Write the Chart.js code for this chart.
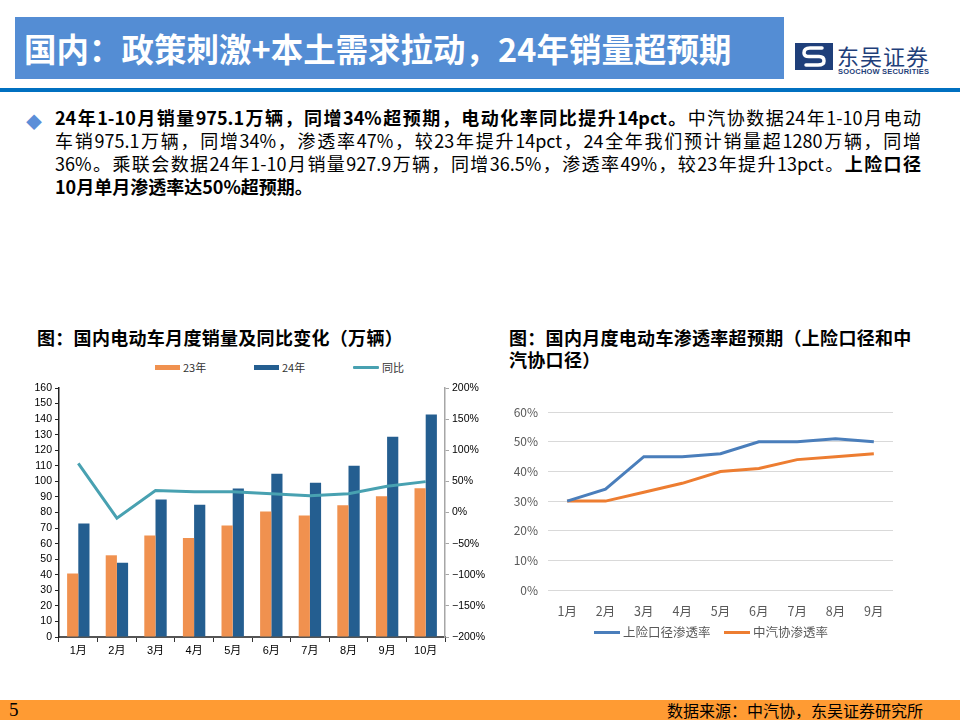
<!DOCTYPE html>
<html><head><meta charset="utf-8">
<script src="https://cdn.jsdelivr.net/npm/chart.js@4/dist/chart.umd.min.js"></script>
<style>
html,body{margin:0;padding:0;background:#fff;}
body{width:960px;height:720px;position:relative;overflow:hidden;font-family:"Noto Sans CJK SC","Noto Sans",sans-serif;}
.abs{position:absolute;}
#hdr{left:15px;top:17px;width:769px;height:62px;background:#548DD4;}
#hdrtxt{left:24px;top:17px;height:62px;line-height:62px;color:#fff;font-weight:bold;font-size:32.4px;white-space:nowrap;letter-spacing:0.1px;}
#rule{left:0;top:88px;width:960px;height:4px;background:#0070C0;}
#bul{left:26px;top:109px;color:#5B8ED8;font-size:16px;}
.ln{position:absolute;left:55px;width:866px;font-size:18px;line-height:23px;height:23px;white-space:nowrap;color:#000;font-family:"Noto Sans CJK SC",sans-serif;}
.j{text-align:justify;text-align-last:justify;}
.ttl{position:absolute;font-weight:bold;font-size:18px;color:#000;white-space:nowrap;letter-spacing:0.3px;}
.lg{position:absolute;font-size:11px;color:#333;white-space:nowrap;line-height:12px;}
.lg2{position:absolute;font-size:12.5px;color:#595959;white-space:nowrap;line-height:14px;}
#foot{left:0;top:700px;width:960px;height:20px;background:#FF9B33;}
</style></head>
<body>
<div id="hdr" class="abs"></div>
<div id="hdrtxt" class="abs">国内：政策刺激+本土需求拉动，24年销量超预期</div>
<div class="abs" style="left:795px;top:43px;width:38px;height:27px;background:#1F3F7A;overflow:hidden">
<svg width="38" height="27" viewBox="0 0 38 27"><path d="M27 5 L15 5 Q9 5 9 10 Q9 13.5 14 13.5 L24 13.5 Q29 13.5 29 18 Q29 22 23 22 L11 22" stroke="#fff" stroke-width="3.5" fill="none" stroke-linecap="round"/></svg>
</div>
<div class="abs" style="left:837px;top:42px;font-size:22px;line-height:26px;color:#1F3F7A;letter-spacing:1px;white-space:nowrap">东吴证券</div>
<div class="abs" style="left:838px;top:68px;font-size:7.5px;line-height:8px;color:#1F3F7A;font-weight:bold;letter-spacing:0.2px;white-space:nowrap;font-family:'Liberation Sans',sans-serif">SOOCHOW SECURITIES</div>
<div id="rule" class="abs"></div>
<div id="bul" class="abs">◆</div>
<div class="ln j" style="top:106px"><b>24年1-10月销量975.1万辆，同增34%超预期，电动化率同比提升14pct。</b>中汽协数据24年1-10月电动</div>
<div class="ln j" style="top:129px">车销975.1万辆，同增34%，渗透率47%，较23年提升14pct，24全年我们预计销量超1280万辆，同增</div>
<div class="ln j" style="top:152px">36%。乘联会数据24年1-10月销量927.9万辆，同增36.5%，渗透率49%，较23年提升13pct。<b>上险口径</b></div>
<div class="ln" style="top:175px"><b>10月单月渗透率达50%超预期。</b></div>

<div class="ttl" style="left:37px;top:324px">图：国内电动车月度销量及同比变化（万辆）</div>
<div class="ttl" style="left:509px;top:324px">图：国内月度电动车渗透率超预期（上险口径和中</div>
<div class="ttl" style="left:509px;top:346px">汽协口径）</div>

<div class="abs" style="left:155px;top:365px;width:25px;height:5px;background:#F0914F"></div>
<div class="lg" style="left:183px;top:361px">23年</div>
<div class="abs" style="left:254px;top:365px;width:25px;height:5px;background:#245E90"></div>
<div class="lg" style="left:282px;top:361px">24年</div>
<div class="abs" style="left:353px;top:366px;width:26px;height:3px;background:#48A1B1;border-radius:1px"></div>
<div class="lg" style="left:382px;top:361px">同比</div>

<div class="abs" style="left:10px;top:378px;width:480px;height:290px"><canvas id="c1" width="480" height="290"></canvas></div>
<div class="abs" style="left:500px;top:395px;width:420px;height:228px"><canvas id="c2" width="420" height="228"></canvas></div>

<div class="abs" style="left:594px;top:631px;width:26px;height:3px;background:#4A7EBB"></div>
<div class="lg2" style="left:623px;top:625px">上险口径渗透率</div>
<div class="abs" style="left:724px;top:631px;width:26px;height:3px;background:#ED7D31"></div>
<div class="lg2" style="left:753px;top:625px">中汽协渗透率</div>

<div id="foot" class="abs"></div>
<div class="abs" style="left:9px;top:699px;font-size:19px;line-height:22px;font-family:'Liberation Serif',serif;color:#000">5</div>
<div class="abs" style="left:667px;top:700px;font-size:16px;line-height:20px;color:#000;white-space:nowrap">数据来源：中汽协，东吴证券研究所</div>

<script>
const months10 = ['1月','2月','3月','4月','5月','6月','7月','8月','9月','10月'];
const sales23 = [40.8, 52.5, 65.3, 63.6, 71.7, 80.6, 78.0, 84.6, 90.4, 95.6];
const sales24 = [72.9, 47.7, 88.3, 85.0, 95.5, 104.9, 99.1, 110.0, 128.7, 143.0];
const yoy = [78.8, -9.2, 35.3, 33.5, 33.3, 30.1, 27.0, 30.0, 42.3, 49.6];

const months9 = ['1月','2月','3月','4月','5月','6月','7月','8月','9月'];
const penInsurance = [30, 34, 45, 45, 46, 50, 50, 51, 50];
const penCaam = [30, 30, 33, 36, 40, 41, 44, 45, 46];

const narrow = "'Liberation Sans Narrow','Liberation Sans','Noto Sans CJK SC',sans-serif";

new Chart(document.getElementById('c1'), {
  data: {
    labels: months10,
    datasets: [
      {type:'line', label:'同比', data:yoy, yAxisID:'y1', borderColor:'#48A1B1', borderWidth:3, pointRadius:0, tension:0, order:0},
      {type:'bar', label:'23年', data:sales23, yAxisID:'y', backgroundColor:'#F0914F', barPercentage:1, categoryPercentage:0.58, order:1},
      {type:'bar', label:'24年', data:sales24, yAxisID:'y', backgroundColor:'#245E90', barPercentage:1, categoryPercentage:0.58, order:1}
    ]
  },
  options: {
    responsive:false, animation:false,
    layout:{padding:{top:10,left:0,right:0,bottom:0}},
    plugins:{legend:{display:false}, tooltip:{enabled:false}},
    scales:{
      x:{
        offset:true,
        grid:{offset:true, drawOnChartArea:false, drawTicks:true, tickLength:5, tickColor:'#333'},
        border:{color:'#555', width:2},
        ticks:{color:'#000', font:{family:narrow, size:11}, padding:2, maxRotation:0, autoSkip:false},
        afterFit:s=>{s.height=31;}
      },
      y:{
        position:'left', min:0, max:160,
        ticks:{stepSize:10, autoSkip:false, color:'#000', font:{family:narrow, size:10.5}, padding:3},
        grid:{drawOnChartArea:false, drawTicks:true, tickLength:4, tickColor:'#222'},
        border:{color:'#222', width:1.5},
        afterFit:s=>{s.width=49;}
      },
      y1:{
        position:'right', min:-200, max:200,
        ticks:{stepSize:50, autoSkip:false, color:'#000', font:{family:narrow, size:10.5}, padding:3,
          callback:v=> (v<0?'\u2212'+Math.abs(v):v)+'%'},
        grid:{drawOnChartArea:false, drawTicks:true, tickLength:4, tickColor:'#A6A6A6'},
        border:{color:'#A6A6A6', width:1.5},
        afterFit:s=>{s.width=45;}
      }
    }
  }
});

const sans = "'Noto Sans CJK SC','Noto Sans',sans-serif";
new Chart(document.getElementById('c2'), {
  type:'line',
  data:{
    labels: months9,
    datasets:[
      {label:'上险口径渗透率', data:penInsurance, borderColor:'#4A7EBB', borderWidth:3, pointRadius:0, tension:0},
      {label:'中汽协渗透率', data:penCaam, borderColor:'#ED7D31', borderWidth:3, pointRadius:0, tension:0}
    ]
  },
  options:{
    responsive:false, animation:false,
    layout:{padding:{top:17,right:27,left:0,bottom:0}},
    plugins:{legend:{display:false}, tooltip:{enabled:false}},
    scales:{
      x:{
        offset:true,
        grid:{display:false},
        border:{display:false},
        ticks:{color:'#595959', font:{family:sans, size:12.5}, padding:6},
        afterFit:s=>{s.height=33;}
      },
      y:{
        min:0, max:60,
        ticks:{stepSize:10, color:'#595959', font:{family:sans, size:12}, padding:10, callback:v=>v+'%'},
        grid:{color:'#D9D9D9', lineWidth:1, drawTicks:false},
        border:{display:false},
        afterFit:s=>{s.width=48;}
      }
    }
  }
});
</script>
</body></html>
